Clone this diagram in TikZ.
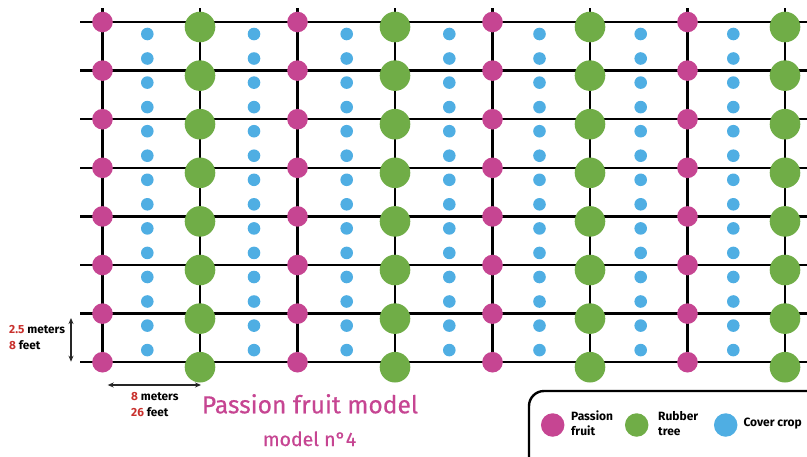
\documentclass[tikz,border=0pt]{standalone}
\usepackage{fontspec}
\setmainfont{Fira Sans}
\newfontfamily\titlefont[FakeBold=0.6]{Fira Sans}
\usetikzlibrary{arrows.meta}
\definecolor{fruitpink}{HTML}{C64592}
\definecolor{rubbergreen}{HTML}{70AD47}
\definecolor{coverblue}{HTML}{4FAEE3}
\definecolor{numred}{HTML}{C8302C}
\tikzset{
  gridline/.style={line width=2.4pt, black},
  passion/.style={circle, fill=fruitpink, inner sep=0pt, minimum size=20.6pt},
  rubber/.style={circle, fill=rubbergreen, inner sep=0pt, minimum size=30.6pt},
  cover/.style={circle, fill=coverblue, inner sep=0pt, minimum size=12.6pt},
  dimarrow/.style={line width=1.1pt, black!85, {Stealth[length=6pt,width=5pt]}-{Stealth[length=6pt,width=5pt]}},
  dimtext/.style={font=\fontsize{11.8}{13}\selectfont\bfseries, anchor=base west, inner sep=0pt},
  legtext/.style={font=\fontsize{12}{14}\selectfont\bfseries, anchor=base west, inner sep=0pt, align=left},
  titletext/.style={text=fruitpink, anchor=base west, inner sep=0pt},
}
\newcommand{\num}[1]{\textcolor{numred}{#1}}
\begin{document}
\begin{tikzpicture}[x=1pt,y=-1pt]
\useasboundingbox (0,0) rectangle (807,456);

% row and column anchors of the planting grid
\foreach \r in {0,...,7}{
  \pgfmathsetmacro{\yy}{22+48.6*\r}
  \coordinate (L\r) at (80,\yy);
  \coordinate (R\r) at (807,\yy);
}
\foreach \c/\xx in {0/102.5,1/200,2/297.5,3/395,4/492.5,5/590,6/687.5,7/785}{
  \coordinate (T\c) at (\xx,8);
  \coordinate (B\c) at (\xx,362.2);
}

% grid lines
\foreach \r in {0,...,7}{ \draw[gridline] (L\r) -- (R\r); }
\foreach \c in {0,...,7}{ \draw[gridline] (T\c) -- (B\c); }

% passion fruit (even columns) and rubber trees (odd columns)
\foreach \r in {0,...,7}{
  \pgfmathsetmacro{\yy}{22+48.6*\r}
  \foreach \c/\xx in {0/102.5,2/297.5,4/492.5,6/687.5}{
    \node[passion] (pf-\c-\r) at (\xx,\yy) {};
  }
  \foreach \c/\xx in {1/200,3/395,5/590,7/785}{
    \node[rubber] (rt-\c-\r) at (\xx,\yy+5) {};
  }
}

% cover crop, two dots per band between each pair of columns
\foreach \r in {0,...,6}{
  \pgfmathsetmacro{\ya}{22+48.6*\r+12}
  \pgfmathsetmacro{\yb}{22+48.6*\r+36.5}
  \foreach \k/\xx in {0/147.3,1/254,2/346.7,3/449.3,4/539.5,5/640.7,6/733.3}{
    \node[cover] (cc-\k-\r-a) at (\xx,\ya) {};
    \node[cover] (cc-\k-\r-b) at (\xx,\yb) {};
  }
}

% spacing dimensions
\coordinate (vtop) at (71,318);
\coordinate (vbot) at (71,361.7);
\draw[dimarrow] (vtop) -- (vbot);
\node[dimtext] (rowdist) at (9,333.3) {\num{2.5} meters};
\node[dimtext] (rowft) at (9,349) {\num{8} feet};

\coordinate (hleft) at (107.7,385);
\coordinate (hright) at (201,385);
\draw[dimarrow] (hleft) -- (hright);
\node[dimtext] (coldist) at (131,400.7) {\num{8} meters};
\node[dimtext] (colft) at (131,416.7) {\num{26} feet};

% title
\node[titletext, font=\titlefont\fontsize{24.6}{28}\selectfont] (title) at (201.7,413.3) {Passion fruit model};
\node[titletext, font=\titlefont\fontsize{19.5}{22}\selectfont] (subtitle) at (262.7,446) {model n°4};

% legend
\draw[line width=2.4pt, rounded corners=15pt] (529,391) rectangle (840,490);
\node[passion, minimum size=23.5pt] (lg-pf) at (552.7,425) {};
\node[legtext] (lg-pf-t) at (571,420.7) {Passion};
\node[legtext] at (571,435.7) {fruit};
\node[rubber, minimum size=23.5pt] (lg-rt) at (636.7,425) {};
\node[legtext] (lg-rt-t) at (658,420.7) {Rubber};
\node[legtext] at (658,435.7) {tree};
\node[cover, minimum size=23.5pt] (lg-cc) at (725.7,425) {};
\node[legtext] (lg-cc-t) at (743.3,426.7) {Cover crop};
\end{tikzpicture}
\end{document}
